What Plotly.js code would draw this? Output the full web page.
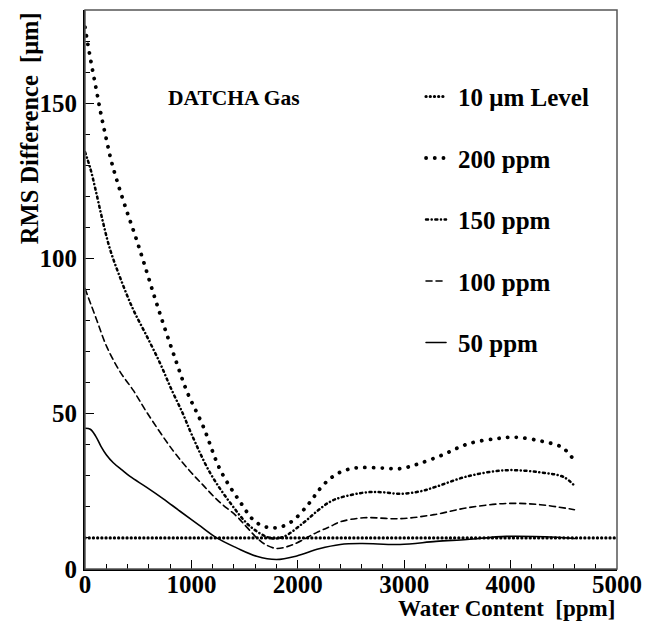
<!DOCTYPE html>
<html>
<head>
<meta charset="utf-8">
<script src="https://cdn.plot.ly/plotly-3.0.1.min.js"></script>
<style>
  html, body { margin: 0; padding: 0; background: #fff; }
  #chart { width: 646px; height: 621px; }
  /* round caps turn short dash segments into dots */
  .scatterlayer .js-line, .legendlines .js-line { stroke-linecap: round !important; }
</style>
</head>
<body>
<div id="chart"></div>
<script>
// Water content (ppm) and RMS difference (μm) for each water level in the gas
const level10X = [0, 5000];
const level10Y = [10, 10];

const ppm200X = [0, 50, 100, 150, 200, 250, 310, 390, 470, 550, 650, 750, 860, 960, 1110, 1270, 1450, 1610, 1770, 1930, 2110, 2200, 2300, 2400, 2500, 2600, 2800, 2960, 3130, 3370, 3600, 3870, 4060, 4300, 4480, 4540, 4600];
const ppm200Y = [174.5, 164.5, 155.5, 146.5, 138.5, 131, 124, 115.5, 107.5, 99, 88, 77.5, 66.5, 57, 46, 32, 22, 15, 13.2, 15, 21.3, 25.5, 29, 31.2, 32.3, 32.7, 32.5, 32.3, 33.8, 36.9, 40.3, 42, 42.4, 41.1, 39.3, 37.4, 35];

const ppm150X = [0, 50, 100, 160, 235, 345, 455, 580, 705, 810, 920, 1000, 1175, 1365, 1550, 1740, 1860, 2050, 2180, 2300, 2400, 2650, 2800, 2960, 3150, 3300, 3590, 3960, 4280, 4500, 4600];
const ppm150Y = [134.3, 129, 122, 113, 103, 92.5, 83.4, 75, 66.3, 58, 50, 43.5, 31, 21.3, 13.8, 10.0, 10.3, 14.8, 18.6, 21.6, 23, 24.7, 24.7, 24.2, 25, 26.5, 29.8, 31.8, 31.1, 29.6, 26.8];

const ppm100X = [0, 110, 204, 330, 454, 580, 830, 1000, 1110, 1250, 1425, 1520, 1610, 1700, 1800, 1900, 1990, 2180, 2300, 2400, 2620, 2960, 3280, 3590, 3960, 4280, 4600];
const ppm100Y = [90.3, 80.2, 71.6, 63.5, 57.5, 50.5, 38, 31, 27, 22, 17, 13.5, 10.2, 7.8, 6.6, 7.2, 8.4, 11.8, 13.6, 15.2, 16.5, 16.2, 17.5, 19.7, 21.1, 20.7, 19.1];

const ppm50X = [0, 50, 100, 150, 200, 266, 350, 423, 580, 736, 893, 1065, 1238, 1425, 1613, 1800, 1990, 2200, 2400, 2600, 2960, 3300, 3590, 3960, 4430, 4600];
const ppm50Y = [45.3, 45, 42.8, 39.5, 36.8, 34.2, 31.8, 29.8, 26.3, 22.6, 18.6, 14.3, 10.0, 6.8, 4.1, 3.05, 4.2, 6.5, 7.9, 8.2, 7.9, 8.9, 9.5, 10.5, 10.2, 9.8];

const seriesNames = ['10 \u03bcm Level', '200 ppm', '150 ppm', '100 ppm', '50 ppm'];

const xTickVals = [0, 1000, 2000, 3000, 4000, 5000];
const xTickText = ['0', '1000', '2000', '3000', '4000', '5000'];
const yTickVals = [0, 50, 100, 150];
const yTickText = ['0', '50', '100', '150'];

const serif = 'Liberation Serif';
const bold = s => '<b>' + s + '</b>';

function curve(x, y, name, group, line) {
  return {
    x: x, y: y, name: bold(name), legendgroup: group,
    type: 'scatter', mode: 'lines',
    line: Object.assign({ color: '#000', shape: 'spline', smoothing: 1 }, line)
  };
}

const traces = [
  curve(level10X, level10Y, seriesNames[0], 'g0', { width: 3.2, dash: '0.1px,4.1px', shape: 'linear' }),
  curve(ppm200X, ppm200Y, seriesNames[1], 'g1', { width: 3.8, dash: '0.1px,8.6px' }),
  curve(ppm150X, ppm150Y, seriesNames[2], 'g2', { width: 2.5, dash: '2px,3.6px,0.1px,3.6px' }),
  curve(ppm100X, ppm100Y, seriesNames[3], 'g3', { width: 1.6, dash: '6px,4px' }),
  curve(ppm50X, ppm50Y, seriesNames[4], 'g4', { width: 1.6 })
];

const tickFont = { family: serif, size: 25, color: '#000' };

const layout = {
  width: 646, height: 621,
  margin: { l: 85, r: 29, t: 10, b: 52 },
  paper_bgcolor: '#fff', plot_bgcolor: '#fff',
  showlegend: true,
  legend: {
    x: 0.626, y: 0.886, xanchor: 'left', yanchor: 'top',
    bgcolor: 'rgba(0,0,0,0)', borderwidth: 0,
    tracegroupgap: 26,
    font: { family: serif, size: 25, color: '#000' }
  },
  xaxis: {
    range: [0, 5000], tickmode: 'array', tickvals: xTickVals, ticktext: xTickText.map(bold),
    ticks: 'inside', ticklen: 9, tickwidth: 1.3, tickcolor: '#000',
    ticklabelstandoff: -8,
    minor: { dtick: 200, tick0: 0, ticks: 'inside', ticklen: 5, tickwidth: 1, tickcolor: '#000', showgrid: false },
    showgrid: false, zeroline: false,
    showline: true, linewidth: 2, linecolor: '#000',
    tickfont: tickFont
  },
  yaxis: {
    range: [0, 180], tickmode: 'array', tickvals: yTickVals, ticktext: yTickText.map(bold),
    ticks: 'inside', ticklen: 9, tickwidth: 1.3, tickcolor: '#000',
    ticklabelstandoff: 1,
    minor: { dtick: 10, tick0: 0, ticks: 'inside', ticklen: 5, tickwidth: 1, tickcolor: '#000', showgrid: false },
    showgrid: false, zeroline: false,
    showline: true, linewidth: 2, linecolor: '#000',
    tickfont: tickFont
  },
  shapes: [
    { type: 'rect', xref: 'paper', yref: 'paper', x0: 0, x1: 1, y0: 0, y1: 1,
      line: { color: '#555', width: 1.5 }, fillcolor: 'rgba(0,0,0,0)', layer: 'above' }
  ],
  annotations: [
    { text: bold('DATCHA Gas'), xref: 'paper', yref: 'paper', x: 0.28, y: 0.843,
      xanchor: 'center', yanchor: 'middle', showarrow: false,
      font: { family: serif, size: 21.5, color: '#000' } },
    { text: bold('Water Content\u00a0\u00a0[ppm]'), xref: 'paper', yref: 'paper', x: 1, y: -0.0707,
      xanchor: 'right', yanchor: 'middle', showarrow: false,
      font: { family: serif, size: 23, color: '#000' } },
    { text: bold('RMS Difference\u00a0\u00a0[\u03bcm]'), xref: 'paper', yref: 'paper', x: -0.105, y: 1,
      xanchor: 'center', yanchor: 'top', textangle: -90, showarrow: false,
      font: { family: serif, size: 24.5, color: '#000' } }
  ]
};

Plotly.newPlot('chart', traces, layout, { displayModeBar: false, staticPlot: true }).then(gd => {
  // short legend samples placed just before the labels
  gd.querySelectorAll('.legendlines path').forEach(p => p.setAttribute('d', 'M8,0h20'));
});
</script>
</body>
</html>
